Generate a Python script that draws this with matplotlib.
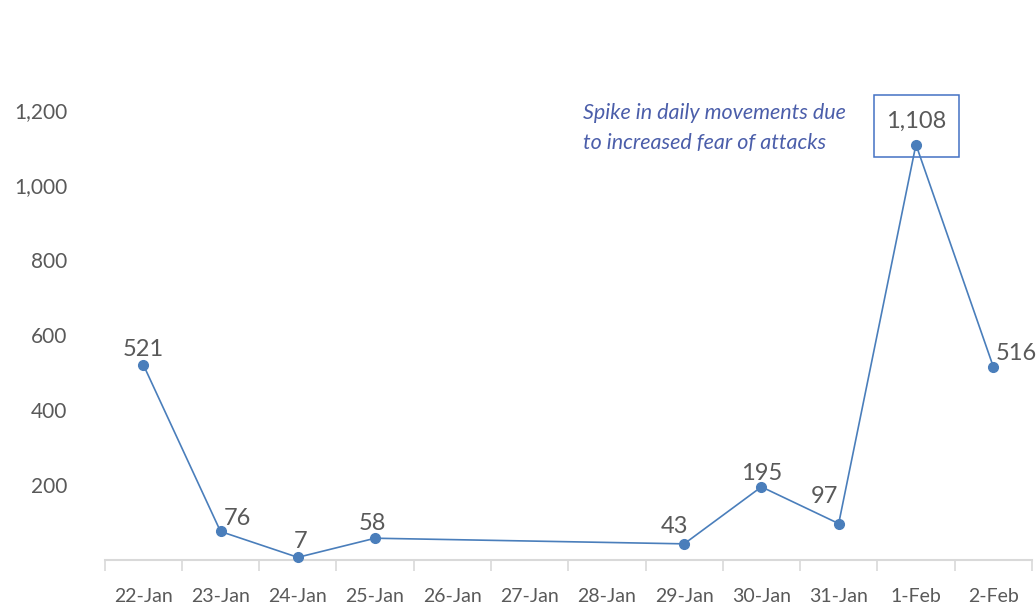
import matplotlib.pyplot as plt
import matplotlib.transforms as mtransforms
from matplotlib.patches import Rectangle
import numpy as np

days = ['22-Jan', '23-Jan', '24-Jan', '25-Jan', '26-Jan', '27-Jan',
        '28-Jan', '29-Jan', '30-Jan', '31-Jan', '1-Feb', '2-Feb']
movements = [521, 76, 7, 58, None, None, None, 43, 195, 97, 1108, 516]
yticks = [200, 400, 600, 800, 1000, 1200]
note = 'Spike in daily movements due\nto increased fear of attacks'

plt.rcParams['font.family'] = ['Lato', 'DejaVu Sans']
grey = '#595959'
blue = '#4A7EBB'

fig = plt.figure(figsize=(10.36, 6.08), dpi=100)
ax = fig.add_axes([0.101, 0.079, 0.895, 0.740])

xs = [i for i, v in enumerate(movements) if v is not None]
ys = [v for v in movements if v is not None]
ax.plot(xs, ys, color=blue, lw=1.2, marker='o', ms=7, clip_on=False, zorder=3)

# label offsets in points (dx, dy, ha), baseline relative to point
offsets = {0: (0, 6, 'center'), 1: (12, 5, 'center'), 2: (2, 7, 'center'),
           3: (-2, 6, 'center'), 7: (-7, 8, 'center'), 8: (0, 5, 'center'),
           9: (-10, 15, 'center'), 10: (0, 12, 'center'), 11: (2, 5, 'left')}
for x, y in zip(xs, ys):
    dx, dy, ha = offsets[x]
    ax.annotate(f'{y:,}', (x, y), xytext=(dx, dy), textcoords='offset points',
                ha=ha, va='baseline', fontsize=17, color=grey)

# box around the peak label, sized in inches relative to the peak point
peak = movements.index(max(ys))
trans = fig.dpi_scale_trans + mtransforms.ScaledTranslation(peak, max(ys), ax.transData)
ax.add_patch(Rectangle((-0.42, -0.12), 0.85, 0.62, transform=trans, fill=False,
                       ec='#4472C4', lw=1.1, clip_on=False))

ax.text(5.69, 1152, note, fontsize=15.5, style='italic', color='#4B5EAA',
        ha='left', va='center', linespacing=1.65)

ax.set_xlim(-0.5, len(days) - 0.5)
ax.set_ylim(0, 1200)
ax.set_xticks(range(len(days)))
ax.set_xticklabels(days, fontsize=14, color=grey)
ax.set_xticks(np.arange(-0.5, len(days), 1), minor=True)
ax.tick_params(axis='x', which='major', length=0, pad=20)
ax.tick_params(axis='x', which='minor', length=8, color='#D9D9D9', width=1.2)
ax.set_yticks(yticks)
ax.set_yticklabels([f'{t:,}' for t in yticks], fontsize=15, color=grey)
ax.tick_params(axis='y', length=0, pad=27)

for s in ['top', 'right', 'left']:
    ax.spines[s].set_visible(False)
ax.spines['bottom'].set_color('#D9D9D9')
ax.spines['bottom'].set_linewidth(1.5)

plt.savefig('out.png', dpi=100)
